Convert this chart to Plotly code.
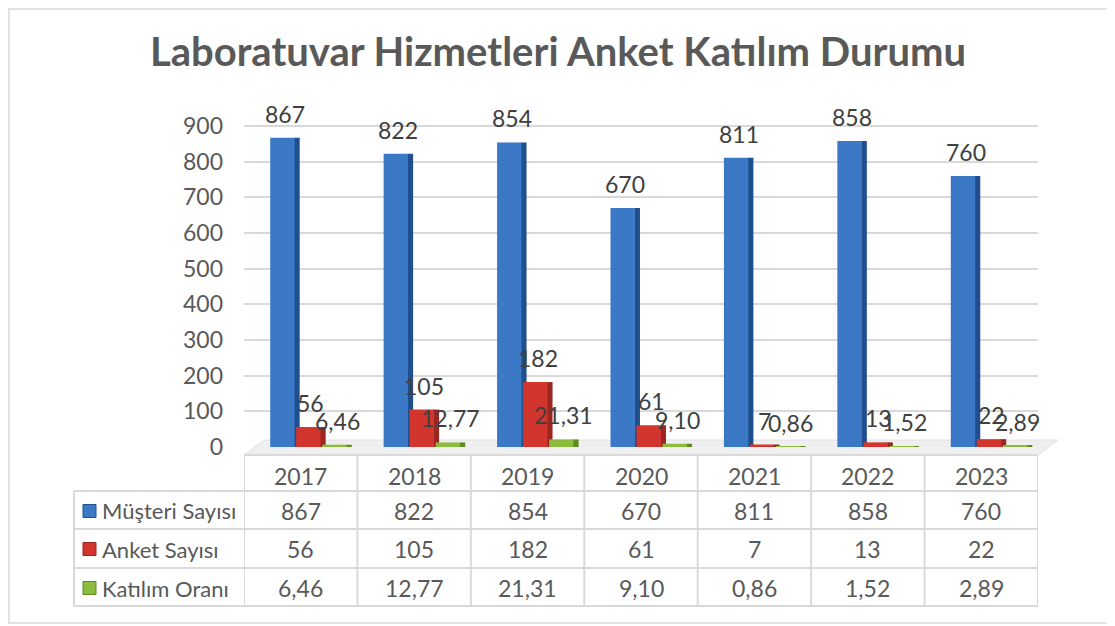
import plotly.graph_objects as go

# ---------------- data ----------------
years = ["2017", "2018", "2019", "2020", "2021", "2022", "2023"]
musteri = [867, 822, 854, 670, 811, 858, 760]
anket = [56, 105, 182, 61, 7, 13, 22]
katilim = [6.46, 12.77, 21.31, 9.10, 0.86, 1.52, 2.89]
series_names = ["Müşteri Sayısı", "Anket Sayısı", "Katılım Oranı"]
y_ticks = [0, 100, 200, 300, 400, 500, 600, 700, 800, 900]
title_text = "Laboratuvar Hizmetleri Anket Katılım Durumu"

# ---------------- geometry / style ----------------
OFF = 8  # page body margin compensation
W, H = 1115, 626
PLOT_L, PLOT_R, PLOT_T, PLOT_B = 244, 1038, 100, 447  # page pixels
L = PLOT_L - OFF
R = W - (PLOT_R - OFF)
T = PLOT_T - OFF
B = H - (PLOT_B - OFF)
PW, PH = W - L - R, H - T - B
FONT = "Lato"
TXT = "#595959"
LBL = "#404040"
GRID = "#d9d9d9"

front_cols = ["#3b78c6", "#d2352d", "#8dbb3e"]
side_cols = ["#1f4f8f", "#9b2520", "#5e8a22"]
offsets = [-0.269, -0.04, 0.19]
front_w = 0.215
side_w = 0.045


def px(xp):
    return (xp - OFF - L) / PW


def py(yp):
    return (H - B - (yp - OFF)) / PH


def fmt(v):
    if isinstance(v, float):
        return f"{v:.2f}".replace(".", ",")
    return str(v)


y_max = 900 * PH / (447 - 126)

series = [musteri, anket, katilim]
fig = go.Figure()
for k, vals in enumerate(series):
    fig.add_trace(go.Bar(
        x=years, y=vals, offset=offsets[k] + front_w - 0.005, width=side_w + 0.005,
        marker=dict(color=side_cols[k], line=dict(width=0)),
        showlegend=False, hoverinfo="skip"))
    fig.add_trace(go.Bar(
        x=years, y=vals, offset=offsets[k], width=front_w, name=series_names[k],
        marker=dict(color=front_cols[k], line=dict(width=0)),
        showlegend=False))

annotations = []
shapes = []

# floor of the chart
shapes.append(dict(type="path", xref="paper", yref="paper", layer="below",
                   path="M {},{} L {},{} L {},{} L {},{} Z".format(
                       px(244), py(455), px(1038), py(455), px(1058), py(440), px(264), py(440)),
                   fillcolor="#efefef", line=dict(color="#e4e4e4", width=1)))

# data labels above bars
for k, vals in enumerate(series):
    for i, v in enumerate(vals):
        annotations.append(dict(
            x=i + offsets[k] + (front_w + side_w) / 2, y=v, xref="x", yref="y",
            text=fmt(v), showarrow=False, yanchor="middle", yshift=24,
            font=dict(family=FONT, size=23, color=LBL)))

# ---------------- data table ----------------
row_lines = [455, 491, 529, 568, 606]
row_centers = [476, 511, 549, 588]
line_style = dict(color=GRID, width=2)

shapes.append(dict(type="line", xref="paper", yref="paper", x0=px(244), x1=px(1038),
                   y0=py(row_lines[0]), y1=py(row_lines[0]), line=line_style))
for yl in row_lines[1:]:
    shapes.append(dict(type="line", xref="paper", yref="paper", x0=px(74), x1=px(1038),
                       y0=py(yl), y1=py(yl), line=line_style))
shapes.append(dict(type="line", xref="paper", yref="paper", x0=px(74), x1=px(74),
                   y0=py(491), y1=py(606), line=line_style))
for i in range(len(years) + 1):
    shapes.append(dict(type="line", xref="x", yref="paper", x0=i - 0.5, x1=i - 0.5,
                       y0=py(455), y1=py(606), line=line_style))

for i, yr in enumerate(years):
    annotations.append(dict(x=i, y=py(row_centers[0]), xref="x", yref="paper",
                            text=yr, showarrow=False, yanchor="middle",
                            font=dict(family=FONT, size=23, color=TXT)))
for k, vals in enumerate(series):
    yc = py(row_centers[k + 1])
    for i, v in enumerate(vals):
        annotations.append(dict(x=i, y=yc, xref="x", yref="paper",
                                text=fmt(v), showarrow=False, yanchor="middle",
                                font=dict(family=FONT, size=23, color=TXT)))
    annotations.append(dict(x=px(100), y=yc, xref="paper", yref="paper",
                            text=series_names[k], showarrow=False, xanchor="left",
                            yanchor="middle", font=dict(family=FONT, size=22, color=TXT)))
    shapes.append(dict(type="rect", xref="paper", yref="paper",
                       x0=px(83), x1=px(96),
                       y0=py(row_centers[k + 1] + 6.5), y1=py(row_centers[k + 1] - 6.5),
                       fillcolor=front_cols[k], line=dict(color=side_cols[k], width=1)))

# chart border (page margin prevents drawing left of / above x,y = 8)
shapes.append(dict(type="rect", xref="paper", yref="paper", x0=px(9), x1=px(1112),
                   y0=py(623), y1=py(9), line=dict(color=GRID, width=1.5),
                   fillcolor="rgba(0,0,0,0)", layer="below"))

fig.update_layout(
    width=W, height=H, autosize=False,
    margin=dict(l=L, r=R, t=T, b=B, pad=0),
    paper_bgcolor="white", plot_bgcolor="rgba(0,0,0,0)",
    barmode="overlay",
    title=dict(text="<b>" + title_text + "</b>", x=(558 - OFF) / W, xref="container",
               xanchor="center", y=1 - (52 - OFF) / H, yref="container", yanchor="middle",
               font=dict(family=FONT, size=40, color=TXT)),
    xaxis=dict(type="category", range=[-0.5, 6.5], showticklabels=False, showgrid=False,
               zeroline=False, showline=False, ticks=""),
    yaxis=dict(range=[0, y_max], tickvals=y_ticks, ticktext=[str(t) for t in y_ticks],
               showgrid=True, gridcolor=GRID, gridwidth=2, zeroline=False, showline=False,
               ticks="", ticklabelstandoff=20,
               tickfont=dict(family=FONT, size=23, color=TXT)),
    annotations=annotations, shapes=shapes,
    showlegend=False,
)

fig.write_html("out.html")
